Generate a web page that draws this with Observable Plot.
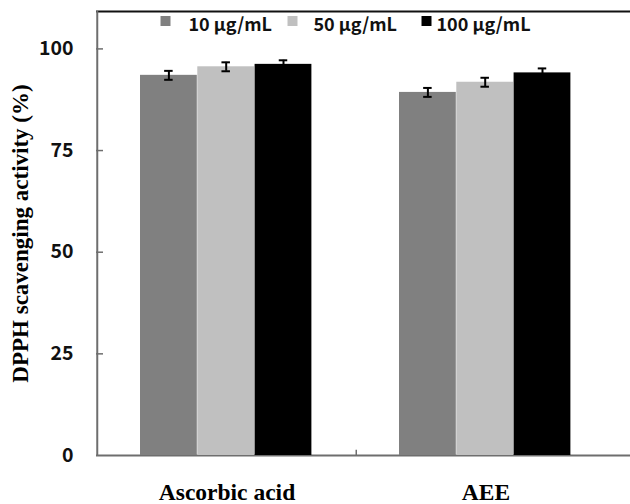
<!DOCTYPE html>
<html><head><meta charset="utf-8">
<script src="https://cdn.jsdelivr.net/npm/d3@7"></script>
<script src="https://cdn.jsdelivr.net/npm/@observablehq/plot@0.6"></script>
<style>body{margin:0;background:#fff}</style>
</head><body><div id="chart"></div>
<script>
const categories = ["Ascorbic acid", "AEE"];
const series = ["10 μg/mL", "50 μg/mL", "100 μg/mL"];
const values10 = [93.5, 89.3];
const values50 = [95.6, 91.8];
const values100 = [96.2, 94.1];
const errors10 = [1.1, 1.1];
const errors50 = [1.1, 1.1];
const errors100 = [1.0, 1.1];
const yTicks = [0, 25, 50, 75, 100];
const colors = ["#808080", "#c0c0c0", "#000000"];
const yTitle = "DPPH scavenging activity (%)";

// layout
const W = 630, H = 504, mL = 96, mT = 11, mB = 49, xEnd = 615;
const B = (xEnd - mL) / categories.length;
const barStart = 0.1657, barW = 0.2208;
const yMax = 109.2;
const axisColor = "#6e6e6e";
const serif = "'Liberation Serif', 'Times New Roman', serif";
const sans = "'Noto Sans CJK KR', 'Noto Sans', sans-serif";
const legendSquareX = [165, 292, 426];
const legendTextX = [188, 313, 436];

const valuesBySeries = [values10, values50, values100];
const errorsBySeries = [errors10, errors50, errors100];
const rows = [];
series.forEach((s, j) => categories.forEach((c, i) => rows.push({
  category: c, series: s, j, value: valuesBySeries[j][i], error: errorsBySeries[j][i]
})));

const marks = [];
// axis frame lines
marks.push(Plot.ruleY([yMax], {stroke: "#111", strokeWidth: 2}));
marks.push(Plot.ruleY([0], {stroke: axisColor, strokeWidth: 2}));
marks.push(Plot.ruleX([categories[0]], {x: d => d, dx: -B / 2, y1: 0, y2: yMax, stroke: axisColor, strokeWidth: 2}));
marks.push(Plot.ruleX([categories[1]], {x: d => d, dx: -B / 2, y1: 0, y2: 1.3, stroke: axisColor, strokeWidth: 1.5}));
marks.push(Plot.tickY(yTicks.filter(t => t > 0), {y: d => d, stroke: axisColor, strokeWidth: 1.5, insetRight: (W - mL) - 7}));

series.forEach((s, j) => {
  const data = rows.filter(r => r.j === j);
  const left = B * (barStart + barW * j);
  const right = B - B * (barStart + barW * (j + 1));
  const center = B * (barStart + barW * (j + 0.5));
  marks.push(Plot.barY(data, {x: "category", y: "value", fill: colors[j], insetLeft: left, insetRight: right}));
  marks.push(Plot.ruleX(data, {x: "category", y1: d => d.value - d.error, y2: d => d.value + d.error, dx: center - B / 2, stroke: "#000", strokeWidth: 2}));
  for (const sign of [-1, 1]) {
    marks.push(Plot.tickY(data, {x: "category", y: d => d.value + sign * d.error, stroke: "#000", strokeWidth: 2, insetLeft: center - 4.5, insetRight: B - center - 4.5}));
  }
  // legend
  marks.push(Plot.dot([s], {x: null, y: null, frameAnchor: "top-left", dx: legendSquareX[j] - mL, dy: 20.5 - mT, symbol: "square", r: 5.64, fill: colors[j]}));
  marks.push(Plot.text([s], {x: null, y: null, text: d => d, frameAnchor: "top-left", textAnchor: "start", lineAnchor: "bottom", dx: legendTextX[j] - mL, dy: 30 - mT, fontSize: 18, fontWeight: "bold", fontFamily: sans, fill: "#111"}));
});

marks.push(Plot.axisY({ticks: yTicks, tickSize: 0, tickPadding: 23, fontSize: 19.5, fontWeight: "bold", fontFamily: sans, fill: "#111", label: null}));
marks.push(Plot.text(categories, {x: d => d, text: d => d, frameAnchor: "bottom", lineAnchor: "bottom", dy: 44, fontSize: 23.5, fontWeight: "bold", fontFamily: serif, fill: "#000"}));
marks.push(Plot.text([yTitle], {x: null, y: null, text: d => d, frameAnchor: "left", textAnchor: "middle", rotate: -90, lineAnchor: "middle", dx: 20.5 - mL, fontSize: 23, fontWeight: "bold", fontFamily: serif, fill: "#000"}));

const chart = Plot.plot({
  width: W, height: H,
  marginLeft: mL, marginRight: 0, marginTop: mT, marginBottom: mB,
  x: {domain: categories, range: [mL, xEnd], padding: 0, axis: null},
  y: {domain: [0, yMax], axis: null},
  style: {fontFamily: sans, background: "#fff", overflow: "visible"},
  marks
});
document.getElementById("chart").appendChild(chart);
</script>
</body></html>
